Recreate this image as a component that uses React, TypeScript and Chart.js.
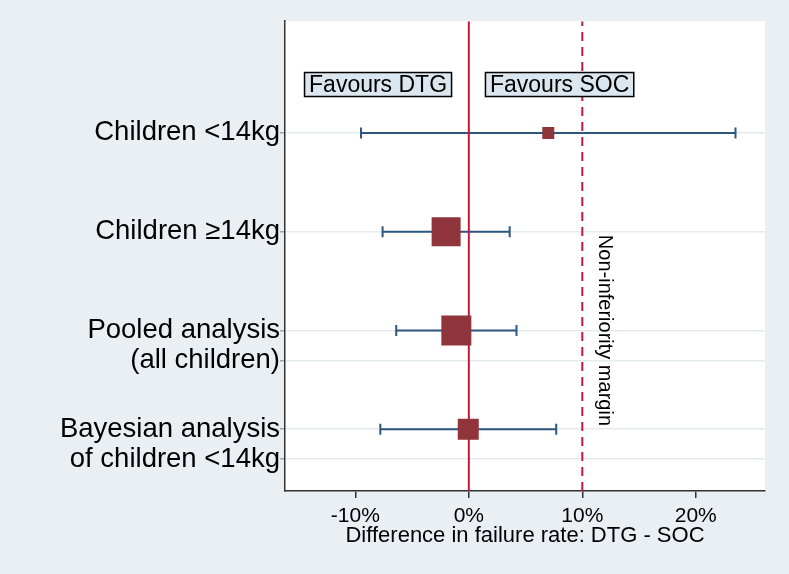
import React, { useEffect, useRef } from 'react';
import { Chart, registerables } from 'chart.js';

Chart.register(...registerables);

// ---- Data ----
const rowLabels = ['Children <14kg', 'Children ≥14kg', 'Pooled analysis', 'Bayesian analysis'];
const rowSubLabels = ['', '', '(all children)', 'of children <14kg'];
const rowPositions = [4, 3, 2, 1];
const pointEstimates = [7.0, -2.0, -1.1, -0.05];
const ciLower = [-9.5, -7.6, -6.4, -7.8];
const ciUpper = [23.5, 3.6, 4.2, 7.7];
const markerWeights = [12, 29, 30, 21];
const xTickValues = [-10, 0, 10, 20];
const nullLine = 0;
const nonInferiorityMargin = 10;
const favoursLabels = ['Favours DTG', 'Favours SOC'];
const favoursX = [-8, 8];
const favoursY = 4.49;
const marginLabel = 'Non-inferiority margin';
const marginLabelX = 12;
const marginLabelY = 2;
const xTitle = 'Difference in failure rate: DTG - SOC';

const X_MIN = -16.2;
const X_MAX = 26.1;
const Y_MIN = 0.374;
const Y_MAX = 5.131;
const SUB_OFFSET = 0.303;

const FONT = '"Liberation Sans", Arial, Helvetica, sans-serif';
const BG = '#e9eff3';
const CRANBERRY = 'rgb(144,53,59)';
const NAVY = '#2f5680';
const RED = '#c8173f';
const GRID = '#e4ebef';

const yTickValues: number[] = [];
const yTickLabels: string[] = [];
rowPositions.forEach((p, i) => {
  yTickValues.push(p);
  yTickLabels.push(rowLabels[i]);
  if (rowSubLabels[i]) {
    yTickValues.push(p - SUB_OFFSET);
    yTickLabels.push(rowSubLabels[i]);
  }
});

const annotationPlugin = {
  id: 'annotations',
  beforeDraw(chart: any) {
    const { ctx, chartArea } = chart;
    ctx.save();
    ctx.fillStyle = BG;
    ctx.fillRect(0, 0, chart.width, chart.height);
    ctx.fillStyle = '#ffffff';
    ctx.fillRect(chartArea.left, chartArea.top, chartArea.right - chartArea.left, chartArea.bottom - chartArea.top);
    ctx.restore();
  },
  afterDatasetsDraw(chart: any) {
    const { ctx } = chart;
    const xs = chart.scales.x;
    const ys = chart.scales.y;
    ctx.save();
    ctx.textBaseline = 'middle';
    ctx.textAlign = 'center';
    ctx.font = `23px ${FONT}`;
    favoursLabels.forEach((t, i) => {
      const cx = xs.getPixelForValue(favoursX[i]);
      const cy = ys.getPixelForValue(favoursY);
      const w = ctx.measureText(t).width + 9;
      const h = 24;
      ctx.fillStyle = '#dbe6ee';
      ctx.fillRect(cx - w / 2, cy - h / 2, w, h);
      ctx.strokeStyle = '#000';
      ctx.lineWidth = 1.5;
      ctx.strokeRect(cx - w / 2, cy - h / 2, w, h);
      ctx.fillStyle = '#000';
      ctx.fillText(t, cx, cy + 1);
    });
    ctx.font = `20px ${FONT}`;
    const mx = xs.getPixelForValue(marginLabelX);
    const my = ys.getPixelForValue(marginLabelY);
    ctx.translate(mx, my);
    ctx.rotate(Math.PI / 2);
    ctx.fillStyle = '#000';
    ctx.fillText(marginLabel, 0, 0);
    ctx.restore();
  },
};

export default function App() {
  const ref = useRef<HTMLCanvasElement | null>(null);
  useEffect(() => {
    if (!ref.current) return;
    const ciSets = rowPositions.map((y, i) => ({
      type: 'line' as const,
      data: [
        { x: ciLower[i], y },
        { x: ciUpper[i], y },
      ],
      borderColor: NAVY,
      borderWidth: 2,
      pointStyle: 'line' as const,
      rotation: 90,
      pointRadius: 5.5,
      pointBorderColor: NAVY,
      pointBorderWidth: 2,
      showLine: true,
      order: 3,
    }));
    const chart = new Chart(ref.current, {
      type: 'scatter',
      data: {
        datasets: [
          ...ciSets,
          {
            type: 'line',
            data: [
              { x: nullLine, y: Y_MIN },
              { x: nullLine, y: Y_MAX },
            ],
            borderColor: RED,
            borderWidth: 2,
            pointRadius: 0,
            showLine: true,
            order: 2,
          },
          {
            type: 'line',
            data: [
              { x: nonInferiorityMargin, y: Y_MIN },
              { x: nonInferiorityMargin, y: Y_MAX },
            ],
            borderColor: RED,
            borderWidth: 2,
            borderDash: [9, 6],
            pointRadius: 0,
            showLine: true,
            order: 2,
          },
          {
            type: 'scatter',
            data: rowPositions.map((y, i) => ({ x: pointEstimates[i], y })),
            pointStyle: 'rect',
            pointRadius: markerWeights.map((s) => s / Math.SQRT2),
            backgroundColor: CRANBERRY,
            borderColor: CRANBERRY,
            borderWidth: 0,
            order: 1,
          },
        ] as any,
      },
      options: {
        animation: false,
        responsive: false,
        maintainAspectRatio: false,
        layout: { padding: { top: 20, right: 24, left: 0, bottom: 0 } },
        plugins: { legend: { display: false }, tooltip: { enabled: false } },
        scales: {
          x: {
            type: 'linear',
            min: X_MIN,
            max: X_MAX,
            afterBuildTicks: (s: any) => {
              s.ticks = xTickValues.map((v) => ({ value: v }));
            },
            afterFit: (s: any) => {
              s.height = 83;
            },
            ticks: {
              callback: (v: any) => `${v}%`,
              font: { size: 21, family: FONT },
              color: '#000',
              padding: 6,
              maxRotation: 0,
              autoSkip: false,
            },
            grid: { drawOnChartArea: false, drawTicks: true, tickLength: 7, tickColor: '#333', lineWidth: 1.5 },
            border: { color: '#333', width: 1.5 },
            title: {
              display: true,
              text: xTitle,
              font: { size: 22, family: FONT },
              color: '#000',
              padding: { top: 0, bottom: 25 },
            },
          },
          y: {
            type: 'linear',
            min: Y_MIN,
            max: Y_MAX,
            afterBuildTicks: (s: any) => {
              s.ticks = yTickValues.map((v) => ({ value: v }));
            },
            afterFit: (s: any) => {
              s.width = 285;
            },
            ticks: {
              callback: (_v: any, i: number) => yTickLabels[i],
              font: { size: 27.5, family: FONT },
              color: '#000',
              padding: 0,
              autoSkip: false,
            },
            grid: { color: GRID, lineWidth: 1.5, drawTicks: true, tickLength: 5, tickColor: '#9aa' },
            border: { color: '#333', width: 1.5 },
          },
        },
      },
      plugins: [annotationPlugin],
    });
    return () => chart.destroy();
  }, []);
  return (
    <div style={{ position: 'fixed', left: 0, top: 0, width: 789, height: 574, background: BG }}>
      <canvas ref={ref} width={789} height={574} style={{ width: 789, height: 574, display: 'block' }} />
    </div>
  );
}
